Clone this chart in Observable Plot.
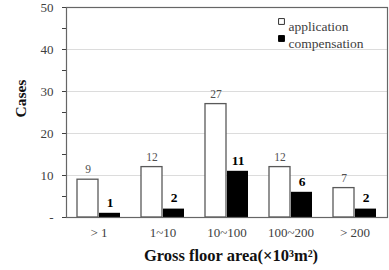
<!DOCTYPE html>
<html><head><meta charset="utf-8">
<script src="https://cdn.jsdelivr.net/npm/d3@7"></script>
<script src="https://cdn.jsdelivr.net/npm/@observablehq/plot@0.6"></script>
<style>
body{margin:0;background:#fff;}
#chart{position:relative;width:389px;height:270px;}
svg, svg text{font-family:"Liberation Serif","Times New Roman",serif;}
</style></head>
<body><div id="chart"></div>
<script>
const categories = ["> 1", "1~10", "10~100", "100~200", "> 200"];
const application = [9, 12, 27, 12, 7];
const compensation = [1, 2, 11, 6, 2];
const seriesNames = ["application", "compensation"];
const yTicks = [0, 5, 10, 15, 20, 25, 30, 35, 40, 45, 50];
const gridLines = [10, 20, 30, 40];
const xTitle = "Gross floor area(×10³m²)";
const yTitle = "Cases";

const serif = "Liberation Serif";
const app = categories.map((c, i) => ({cat: c, v: application[i]}));
const comp = categories.map((c, i) => ({cat: c, v: compensation[i]}));

const chart = Plot.plot({
  width: 389, height: 270,
  marginLeft: 66, marginRight: 2, marginTop: 7, marginBottom: 53,
  style: {fontFamily: "'Liberation Serif', 'Times New Roman', serif", fontSize: "13px", color: "#404040", background: "#fff"},
  x: {domain: categories, paddingInner: 0.674, paddingOuter: 0.337, tickSize: 0, tickPadding: 10, label: null},
  y: {domain: [0, 50], ticks: yTicks, tickSize: 4, tickPadding: 9, label: null,
      tickFormat: d => d === 0 ? "-" : (d % 10 === 0 ? d : "")},
  marks: [
    Plot.ruleY(gridLines, {stroke: "#dcdcdc", strokeWidth: 1}),
    Plot.barY(app, {x: "cat", y: "v", dx: -11, fill: "#fff", stroke: "#595959", strokeWidth: 1.3}),
    Plot.barY(comp, {x: "cat", y: "v", dx: 11, fill: "#000"}),
    Plot.text(app, {x: "cat", y: "v", dx: -11, dy: -10, text: d => d.v, fill: "#505050", fontSize: 11.5, fontFamily: serif}),
    Plot.text(comp, {x: "cat", y: "v", dx: 11, dy: -11, text: d => d.v, fill: "#000", fontSize: 13.5, fontWeight: "bold", fontFamily: serif}),
    Plot.frame({stroke: "#666", strokeWidth: 1.2}),
    Plot.text([xTitle], {frameAnchor: "bottom", dy: 43, dx: 4, text: d => d, fontSize: 16.5, fontWeight: "bold", fill: "#111", fontFamily: serif}),
    Plot.text([yTitle], {frameAnchor: "left", dx: -45, dy: 5, rotate: -90, text: d => d, fontSize: 15.5, fontWeight: "bold", fill: "#111", fontFamily: serif}),
    Plot.dot([seriesNames[0]], {frameAnchor: "top-right", dx: -106, dy: 14, symbol: "square", r: 3.3, fill: "#fff", stroke: "#333", strokeWidth: 1}),
    Plot.dot([seriesNames[1]], {frameAnchor: "top-right", dx: -106, dy: 31, symbol: "square", r: 3.3, fill: "#000", stroke: "#000", strokeWidth: 1}),
    Plot.text([seriesNames[0]], {frameAnchor: "top-right", dx: -99, dy: 14, text: d => d, textAnchor: "start", fontSize: 13.5, fill: "#404040", fontFamily: serif}),
    Plot.text([seriesNames[1]], {frameAnchor: "top-right", dx: -99, dy: 31, text: d => d, textAnchor: "start", fontSize: 13.5, fill: "#404040", fontFamily: serif})
  ]
});
document.getElementById("chart").appendChild(chart);
</script></body></html>
